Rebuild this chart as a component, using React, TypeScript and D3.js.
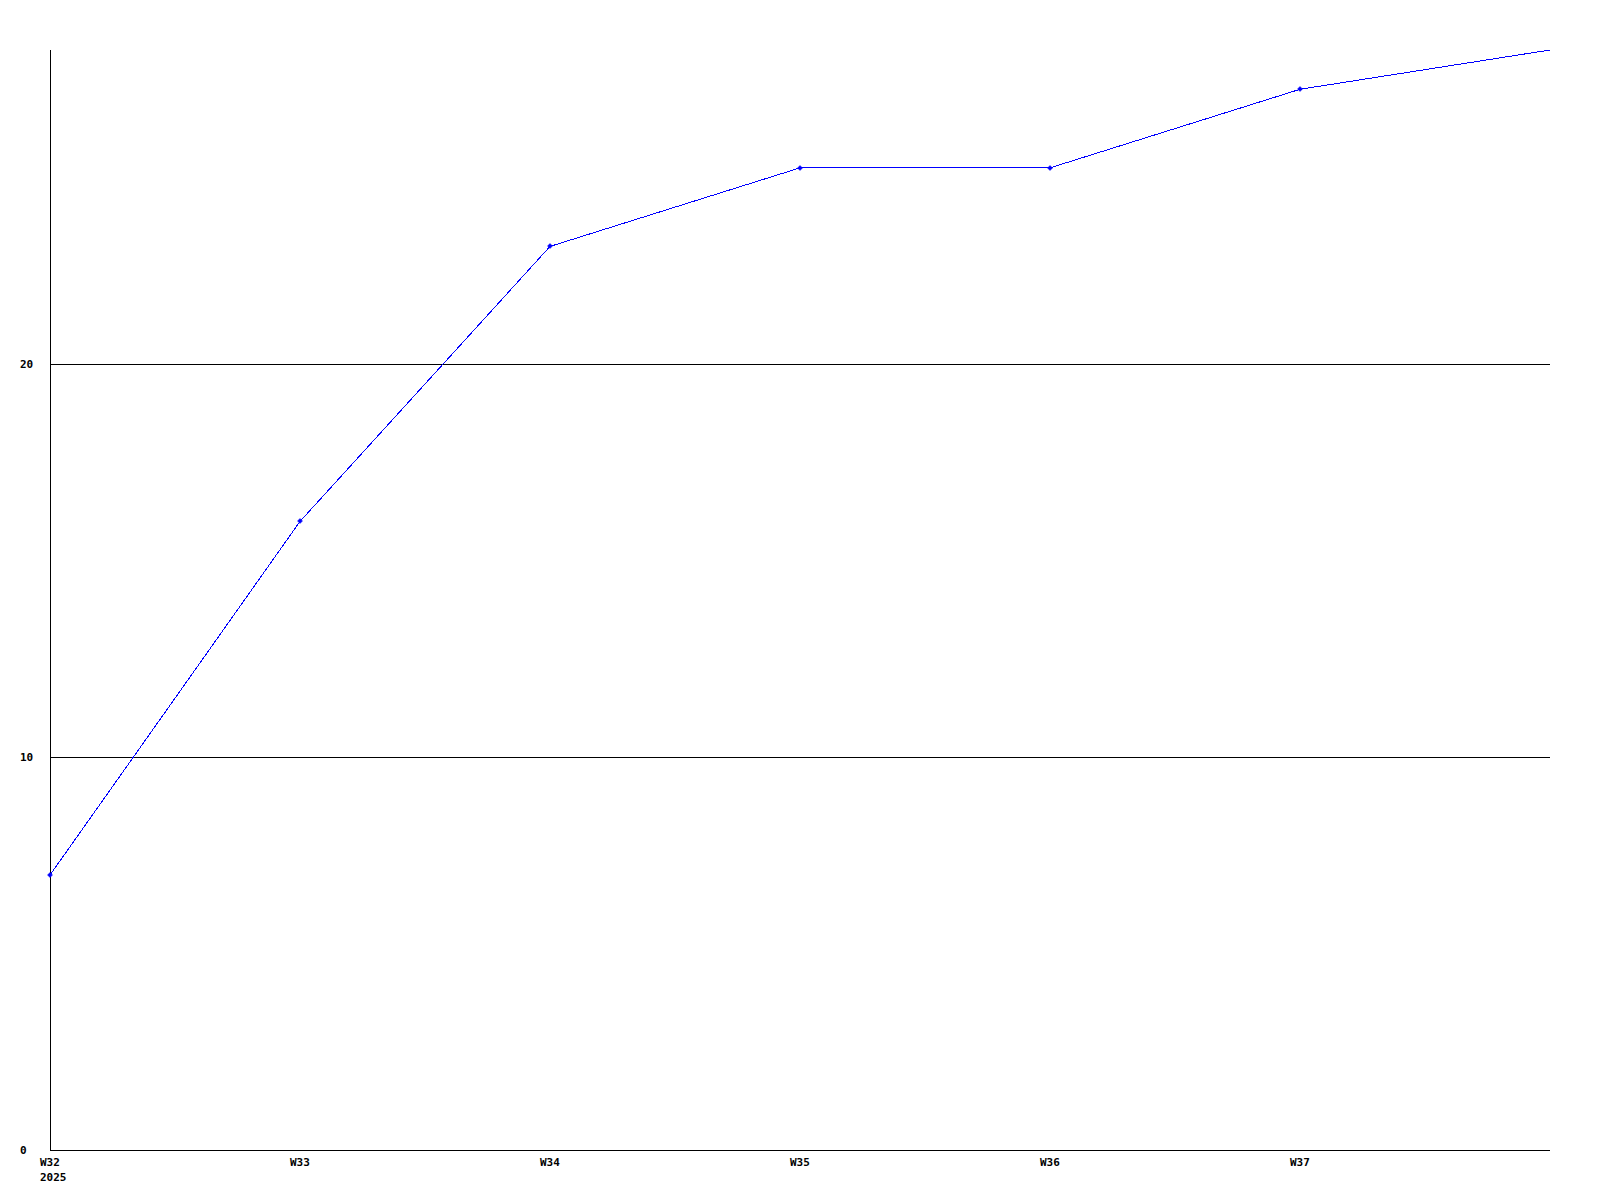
import React from "react";
import * as d3 from "d3";

const weeks = ["W32", "W33", "W34", "W35", "W36", "W37", "W38"];
const values = [7, 16, 23, 25, 25, 27, 28];
const markerWeeks = ["W32", "W33", "W34", "W35", "W36", "W37"];
const yTicks = [0, 10, 20];
const yearLabel = "2025";

const W = 1600;
const H = 1200;
const left = 50, right = 1550, top = 50, bottom = 1150;

export default function App() {
  const x = d3.scalePoint<string>().domain(weeks).range([left, right]);
  const y = d3.scaleLinear().domain([0, 28]).range([bottom, top]);
  const line = d3
    .line<number>()
    .x((_, i) => x(weeks[i]) as number)
    .y((d) => y(d));
  const font = { fontFamily: "'DejaVu Sans Mono', monospace", fontWeight: 700, fontSize: 11 };
  return (
    <svg
      width={W}
      height={H}
      style={{ position: "absolute", left: 0, top: 0, background: "#fff" }}
      shapeRendering="crispEdges"
    >
      <rect x={0} y={0} width={W} height={H} fill="#fff" />
      {yTicks.filter((t) => t > 0).map((t) => (
        <line key={t} x1={left} x2={right} y1={Math.round(y(t)) + 0.5} y2={Math.round(y(t)) + 0.5} stroke="#000" />
      ))}
      <line x1={left + 0.5} x2={left + 0.5} y1={top} y2={bottom} stroke="#000" />
      <line x1={left} x2={right} y1={bottom + 0.5} y2={bottom + 0.5} stroke="#000" />
      {yTicks.map((t) => (
        <text key={t} x={20} y={y(t)} dy="0.35em" {...font} fill="#000">
          {t}
        </text>
      ))}
      {weeks.slice(0, 6).map((w) => (
        <text key={w} x={(x(w) as number) - 10} y={1166} {...font} fill="#000">
          {w}
        </text>
      ))}
      <text x={40} y={1181} {...font} fill="#000">
        {yearLabel}
      </text>
      <path d={line(values) || ""} fill="none" stroke="#0000ff" strokeWidth={1} />
      {markerWeeks.map((w, i) => {
        const cx = Math.round(x(w) as number);
        const cy = Math.round(y(values[i]));
        return (
          <path
            key={w}
            d={`M${cx},${cy - 2.5}L${cx + 2.5},${cy}L${cx},${cy + 2.5}L${cx - 2.5},${cy}Z`}
            fill="#0000ff"
            stroke="#0000ff"
            strokeWidth={0.5}
            shapeRendering="auto"
          />
        );
      })}
    </svg>
  );
}
